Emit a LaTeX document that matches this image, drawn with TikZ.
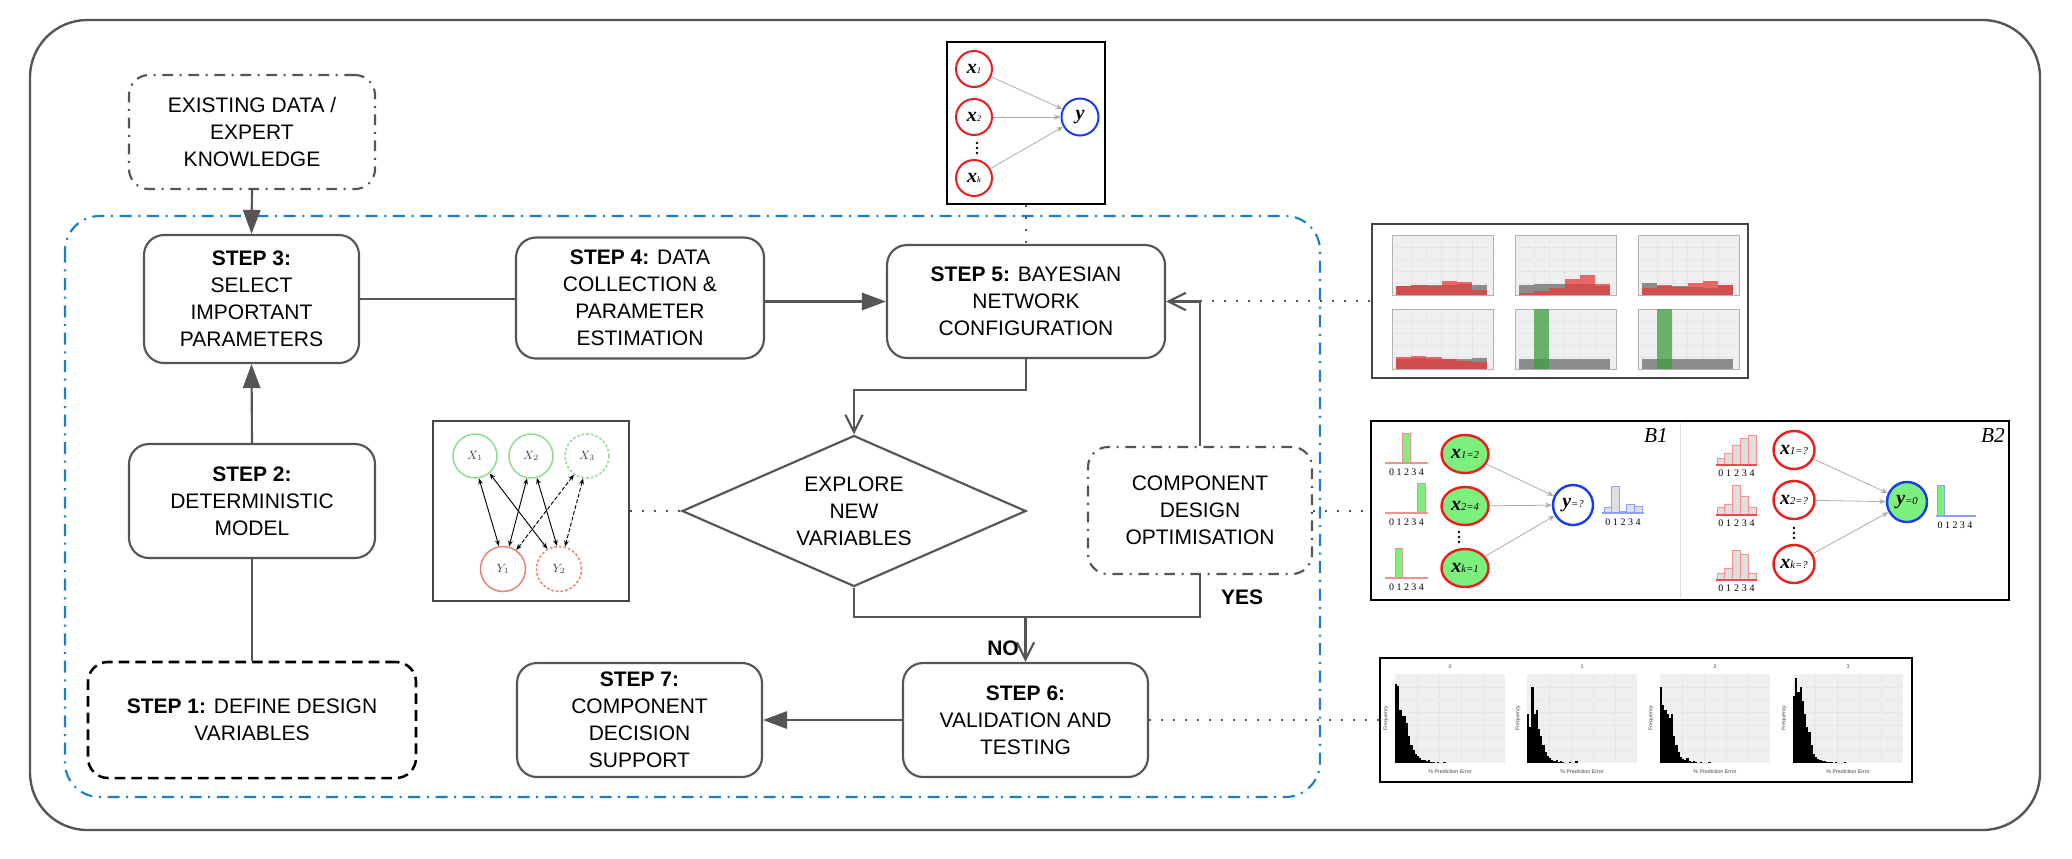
\documentclass[tikz,border=0pt]{standalone}
\usepackage{fontspec}
\setmainfont{Liberation Sans}
\newfontfamily\lserif{Liberation Serif}
\usetikzlibrary{arrows.meta,shapes.geometric,calc}
\definecolor{lg}{HTML}{555555}
\definecolor{dg}{HTML}{444444}
\definecolor{bl}{HTML}{1C7FC6}
\definecolor{bngreen}{HTML}{8EDB8E}
\definecolor{bnred}{HTML}{F07D6E}
\definecolor{nred}{HTML}{EE1C1C}
\definecolor{nblue}{HTML}{1A3CF0}
\definecolor{ngreen}{HTML}{7CF07C}
\definecolor{hgray}{HTML}{8C8C8C}
\definecolor{hred}{HTML}{E83A3A}
\definecolor{hgreen}{HTML}{3E9E3E}
\definecolor{plotbg}{HTML}{EFEFF1}
\definecolor{pinkl}{HTML}{F39090}
\definecolor{lblue}{HTML}{8FA0F5}
\newcommand\mainfs{\fontsize{15.75pt}{20.25pt}\selectfont}
\newcommand\bx[4]{{\fontsize{#3}{#3}\selectfont\lserif\bfseries\itshape #1}{\lserif\itshape\fontsize{#4}{#4}\selectfont #2}}
\newcommand\digs[1]{\makebox[#1]{0}\makebox[#1]{1}\makebox[#1]{2}\makebox[#1]{3}\makebox[#1]{4}}
\begin{document}
\begin{tikzpicture}[x=0.75pt,y=-0.75pt,
  box/.style={draw=lg, line width=1.6pt, rounded corners=15pt, align=center, inner sep=0pt, font=\mainfs},
  ddbox/.style={box, dash pattern=on 8pt off 5pt on 1.5pt off 5pt},
  flow/.style={draw=lg, line width=1.6pt},
  tri/.style={-{Triangle[length=18pt,width=13pt]}},
  barb/.style={-{Straight Barb[length=13pt,width=13pt]}},
  dotc/.style={draw=lg, line width=1.5pt, dash pattern=on 1.5pt off 7.5pt},
  lbl/.style={font=\mainfs\bfseries, inner sep=0pt},
  imgbox/.style={draw=black, line width=2.2pt, inner sep=0pt, fill=white},
  garrow/.style={draw=gray!65, line width=0.6pt, -{Stealth[length=5pt,width=4pt]}},
  bnarrow/.style={draw=black, line width=0.7pt, {Stealth[length=4.5pt,width=3.5pt]}-{Stealth[length=4.5pt,width=3.5pt]}},
  tinyt/.style={font=\fontsize{4pt}{4pt}\selectfont, inner sep=0pt, text=dg},
  digit/.style={font=\lserif\fontsize{7.5pt}{7.5pt}\selectfont, inner sep=0pt},
  gridc/.style={draw=gray!25, line width=0.3pt, dash pattern=on 1pt off 1pt},
  bnode/.style={ellipse, line width=1.8pt, minimum height=38*0.75pt, inner sep=0pt}
]
\useasboundingbox (0,0) rectangle (2072,858);
\fill[white] (0,0) rectangle (2072,858);
% outer frame
\draw[lg, line width=1.8pt, rounded corners=43pt] (30,20) rectangle (2040,830);
% blue dash-dot region
\draw[bl, line width=1.6pt, dash pattern=on 9pt off 5pt on 1.5pt off 5pt, rounded corners=26pt] (65,216) rectangle (1320,797);

% ---------- flow nodes ----------
\node[ddbox, minimum width=246*0.75pt, minimum height=114*0.75pt] (ex) at (252,132) {EXISTING DATA /\\EXPERT\\KNOWLEDGE};
\node[box, minimum width=215*0.75pt, minimum height=128*0.75pt] (s3) at (251.5,299) {\textbf{STEP 3:}\\SELECT\\IMPORTANT\\PARAMETERS};
\node[box, minimum width=248*0.75pt, minimum height=121*0.75pt] (s4) at (640,298) {\textbf{STEP 4:} DATA\\COLLECTION \&\\PARAMETER\\ESTIMATION};
\node[box, minimum width=278*0.75pt, minimum height=113*0.75pt] (s5) at (1026,301.5) {\textbf{STEP 5:} BAYESIAN\\NETWORK\\CONFIGURATION};
\node[box, minimum width=246*0.75pt, minimum height=114*0.75pt] (s2) at (252,501) {\textbf{STEP 2:}\\DETERMINISTIC\\MODEL};
\node[box, draw=black, line width=1.9pt, dash pattern=on 8pt off 4.5pt, minimum width=328*0.75pt, minimum height=116*0.75pt] (s1) at (252,720) {\textbf{STEP 1:} DEFINE DESIGN\\VARIABLES};
\node[draw=lg, line width=1.6pt, diamond, aspect=2.28, minimum width=344*0.75pt, minimum height=151*0.75pt, inner sep=0pt, align=center, font=\mainfs] (dia) at (854,511) {EXPLORE\\NEW\\VARIABLES};
\node[ddbox, minimum width=224*0.75pt, minimum height=127*0.75pt] (comp) at (1200,510.5) {COMPONENT\\DESIGN\\OPTIMISATION};
\node[box, minimum width=245*0.75pt, minimum height=114*0.75pt] (s7) at (639.5,720) {\textbf{STEP 7:}\\COMPONENT\\DECISION\\SUPPORT};
\node[box, minimum width=245*0.75pt, minimum height=114*0.75pt] (s6) at (1025.5,720) {\textbf{STEP 6:}\\VALIDATION AND\\TESTING};

% ---------- connectors ----------
\draw[flow,tri] (ex.south) -- (s3.north);
\draw[flow,tri] (s2.north) -- (s3.south);
\draw[flow] (s1.north) -- (s2.south);
\draw[flow] (s3.east) -- (s3.east -| s4.west);
\draw[flow,tri] (s4.east |- s5.west) -- (s5.west);
\draw[flow,barb] (s5.south) -- (s5.south |- 0,390) -| (dia.north);
\draw[flow] (dia.south) |- (comp.south |- 0,617) -- (comp.south);
\draw[flow,barb] (s6.north |- 0,617) -- (s6.north);
\draw[flow,barb] (comp.north) -- (comp.north |- s5.east) -- (s5.east);
\draw[flow,tri] (s6.west) -- (s7.east);
\node[lbl] (yes) at (1242,597) {YES};
\node[lbl] (no) at (1003,648) {NO};

% ---------- top BN image ----------
\node[imgbox, minimum width=158*0.75pt, minimum height=162*0.75pt] (tbn) at (1026,123) {};
\node[circle, draw=nred, line width=1.5pt, minimum size=36*0.75pt, inner sep=0pt] (t1) at (974,69) {\bx{x}{1}{15pt}{6.5pt}};
\node[circle, draw=nred, line width=1.5pt, minimum size=36*0.75pt, inner sep=0pt] (t2) at (974,117) {\bx{x}{2}{15pt}{6.5pt}};
\node[circle, draw=nred, line width=1.5pt, minimum size=36*0.75pt, inner sep=0pt] (tk) at (974,178) {\bx{x}{k}{15pt}{6.5pt}};
\node[circle, draw=nblue, line width=1.5pt, minimum size=37*0.75pt, inner sep=0pt] (ty) at (1080,117) {\bx{y}{}{15pt}{6.5pt}};
\draw[garrow] (t1) -- (ty);
\draw[garrow] (t2) -- (ty);
\draw[garrow] (tk) -- (ty);
\foreach \d in {-5,0,5} \fill (977,148+\d) circle (1pt);

% ---------- left BN image ----------
\node[draw=dg, line width=1.8pt, inner sep=0pt, minimum width=196*0.75pt, minimum height=180*0.75pt] (bnl) at (531,511) {};
\node[circle, draw=bngreen, line width=1.1pt, minimum size=44*0.75pt, inner sep=0pt, font=\fontsize{9pt}{9pt}\selectfont, text=dg] (X1) at (475,456) {$X_1$};
\node[circle, draw=bngreen, line width=1.1pt, minimum size=44*0.75pt, inner sep=0pt, font=\fontsize{9pt}{9pt}\selectfont, text=dg] (X2) at (531,456) {$X_2$};
\node[circle, draw=bngreen, line width=1.1pt, dash pattern=on 2pt off 1.5pt, minimum size=44*0.75pt, inner sep=0pt, font=\fontsize{9pt}{9pt}\selectfont, text=dg] (X3) at (587,456) {$X_3$};
\node[circle, draw=bnred, line width=1.1pt, minimum size=45*0.75pt, inner sep=0pt, font=\fontsize{9pt}{9pt}\selectfont, text=dg] (Y1) at (503,569) {$Y_1$};
\node[circle, draw=bnred, line width=1.1pt, dash pattern=on 2pt off 1.5pt, minimum size=45*0.75pt, inner sep=0pt, font=\fontsize{9pt}{9pt}\selectfont, text=dg] (Y2) at (559,569) {$Y_2$};
\draw[bnarrow] (X1.-80) -- (Y1.100);
\draw[bnarrow] (X1.-50) -- (Y2.120);
\draw[bnarrow] (X2.-100) -- (Y1.75);
\draw[bnarrow] (X2.-75) -- (Y2.95);
\draw[bnarrow, dash pattern=on 3pt off 1.5pt] (X3.-125) -- (Y1.55);
\draw[bnarrow, dash pattern=on 3pt off 1.5pt] (X3.-100) -- (Y2.75);

% ---------- histogram box (6 panels) ----------
\node[draw=dg, line width=2.2pt, inner sep=0pt, fill=white, minimum width=376*0.75pt, minimum height=154*0.75pt] (hist) at (1560,301) {};
\foreach \xl in {1392,1515,1638} {
  \foreach \yt in {235,309} {
    \fill[plotbg] (\xl,\yt) rectangle (\xl+101,\yt+60);
    \foreach \gx in {1,...,5} \draw[gridc] (\xl+4+\gx*15.2,\yt) -- (\xl+4+\gx*15.2,\yt+60);
    \foreach \gy in {1,...,4} \draw[gridc] (\xl,\yt+\gy*12) -- (\xl+101,\yt+\gy*12);
    \draw[gray!60, line width=0.3pt] (\xl,\yt) rectangle (\xl+101,\yt+60);
  }
}
\foreach \i/\gh/\rh in {0/9/9,1/10/10,2/10/9,3/10/14,4/11/13,5/10/5} {
  \fill[hgray] (1396+\i*15.2,295) rectangle ++(15.2,-\gh);
  \fill[hred, opacity=0.75] (1396+\i*15.2,295) rectangle ++(15.2,-\rh);}
\foreach \i/\gh/\rh in {0/10/2,1/11/4,2/11/7,3/11/16,4/11/20,5/9/11} {
  \fill[hgray] (1519+\i*15.2,295) rectangle ++(15.2,-\gh);
  \fill[hred, opacity=0.75] (1519+\i*15.2,295) rectangle ++(15.2,-\rh);}
\foreach \i/\gh/\rh in {0/12/7,1/9/10,2/9/8,3/8/12,4/7/14,5/10/10} {
  \fill[hgray] (1642+\i*15.2,295) rectangle ++(15.2,-\gh);
  \fill[hred, opacity=0.75] (1642+\i*15.2,295) rectangle ++(15.2,-\rh);}
\foreach \i/\gh/\rh in {0/10/12,1/11/13,2/10/12,3/10/10,4/10/8,5/11/7} {
  \fill[hgray] (1396+\i*15.2,369) rectangle ++(15.2,-\gh);
  \fill[hred, opacity=0.75] (1396+\i*15.2,369) rectangle ++(15.2,-\rh);}
\foreach \i in {0,...,5} {
  \fill[hgray] (1519+\i*15.2,369) rectangle ++(15.2,-10);
  \fill[hgray] (1642+\i*15.2,369) rectangle ++(15.2,-10);}
\fill[hgreen, opacity=0.75] (1519+15.2,369) rectangle ++(15.2,-60);
\fill[hgreen, opacity=0.75] (1642+15.2,369) rectangle ++(15.2,-60);

% ---------- B1 / B2 box ----------
\node[imgbox, minimum width=638*0.75pt, minimum height=179*0.75pt] (bbox) at (1690,510.5) {};
\draw[gray!25, line width=0.6pt] (1680,423) -- (1680,598);
\node[font=\lserif\itshape\fontsize{16pt}{16pt}\selectfont, inner sep=0pt] (b1) at (1656,435) {B1};
\node[font=\lserif\itshape\fontsize{16pt}{16pt}\selectfont, inner sep=0pt] (b2) at (1993,435) {B2};
% B1 nodes
\node[bnode, draw=nred, fill=ngreen, minimum width=47*0.75pt] (a1) at (1465,454) {\bx{x}{1=2}{15pt}{8pt}};
\node[bnode, draw=nred, fill=ngreen, minimum width=47*0.75pt] (a2) at (1465,506) {\bx{x}{2=4}{15pt}{8pt}};
\node[bnode, draw=nred, fill=ngreen, minimum width=47*0.75pt] (ak) at (1465,568) {\bx{x}{k=1}{15pt}{8pt}};
\node[bnode, draw=nblue, fill=white, minimum width=40*0.75pt, minimum height=40*0.75pt] (ay) at (1573,505) {\bx{y}{=?}{15pt}{8pt}};
\draw[garrow] (a1) -- (ay);
\draw[garrow] (a2) -- (ay);
\draw[garrow] (ak) -- (ay);
\foreach \d in {-5,0,5} \fill (1459,537+\d) circle (1pt);
% B1 histograms
\fill[ngreen, draw=pinkl, line width=0.6pt] (1388+2*7.4,463) rectangle ++(7.4,-30);
\fill[ngreen, draw=pinkl, line width=0.6pt] (1388+4*7.4,513) rectangle ++(7.4,-30);
\fill[ngreen, draw=pinkl, line width=0.6pt] (1388+1*7.4,578) rectangle ++(7.4,-30);
\draw[pinkl, line width=1pt] (1385,463) -- (1428,463);
\draw[pinkl, line width=1pt] (1385,513) -- (1428,513);
\draw[pinkl, line width=1pt] (1385,578) -- (1428,578);
\node[digit] (da1) at (1406.5,472) {\digs{5.55pt}};
\node[digit] (da2) at (1406.5,522) {\digs{5.55pt}};
\node[digit] (dak) at (1406.5,587) {\digs{5.55pt}};
\foreach \i/\h in {0/6,1/27,2/2,3/9,4/7}
  \filldraw[fill=gray!25, draw=lblue, line width=0.6pt] (1604+\i*7.6,513) rectangle ++(7.6,-\h);
\draw[lblue, line width=1pt] (1602,513) -- (1644,513);
\node[digit] (day) at (1623,522) {\digs{5.7pt}};
% B2 nodes
\node[bnode, draw=nred, fill=white, minimum width=41*0.75pt] (c1) at (1794,450) {\bx{x}{1=?}{15pt}{8pt}};
\node[bnode, draw=nred, fill=white, minimum width=41*0.75pt] (c2) at (1794,500) {\bx{x}{2=?}{15pt}{8pt}};
\node[bnode, draw=nred, fill=white, minimum width=41*0.75pt] (ck) at (1794,564) {\bx{x}{k=?}{15pt}{8pt}};
\node[bnode, draw=nblue, fill=ngreen, minimum width=40*0.75pt, minimum height=40*0.75pt] (cy) at (1907,502) {\bx{y}{=0}{15pt}{8pt}};
\draw[garrow] (c1) -- (cy);
\draw[garrow] (c2) -- (cy);
\draw[garrow] (ck) -- (cy);
\foreach \d in {-5,0,5} \fill (1794,533+\d) circle (1pt);
% B2 histograms
\foreach \i/\h in {0/7,1/12,2/20,3/27,4/30}
  \filldraw[fill=gray!25, draw=pinkl, line width=0.6pt] (1717+\i*7.8,465) rectangle ++(7.8,-\h);
\foreach \i/\h in {0/8,1/11,2/30,3/19,4/8}
  \filldraw[fill=gray!25, draw=pinkl, line width=0.6pt] (1717+\i*7.8,515) rectangle ++(7.8,-\h);
\foreach \i/\h in {0/7,1/12,2/30,3/26,4/7}
  \filldraw[fill=gray!25, draw=pinkl, line width=0.6pt] (1717+\i*7.8,580) rectangle ++(7.8,-\h);
\draw[nred!80, line width=1pt] (1716,465) -- (1757,465);
\draw[nred!80, line width=1pt] (1716,515) -- (1757,515);
\draw[nred!80, line width=1pt] (1716,580) -- (1757,580);
\node[digit] (dc1) at (1736.5,473) {\digs{5.85pt}};
\node[digit] (dc2) at (1736.5,523) {\digs{5.85pt}};
\node[digit] (dck) at (1736.5,588) {\digs{5.85pt}};
\filldraw[fill=ngreen, draw=lblue, line width=0.6pt] (1937,516) rectangle ++(7.5,-31);
\draw[lblue, line width=1pt] (1936,516) -- (1976,516);
\node[digit] (dcy) at (1955,525) {\digs{5.6pt}};

% ---------- bottom histogram box ----------
\node[imgbox, minimum width=532*0.75pt, minimum height=124*0.75pt] (bot) at (1646,720) {};
\foreach \k/\xl in {0/1395,1/1527,2/1660,3/1793} {
  \fill[plotbg] (\xl,674) rectangle (\xl+110,763);
  \foreach \gx in {1,...,4} \draw[gridc] (\xl+\gx*22,674) -- (\xl+\gx*22,763);
  \foreach \gy in {1,...,6} \draw[gridc] (\xl,674+\gy*12.7) -- (\xl+110,674+\gy*12.7);
  \node[tinyt] (bt\k) at (\xl+55,667) {\k};
  \node[tinyt] (bxl\k) at (\xl+55,772) {\% Prediction Error};
  \node[tinyt, rotate=90] (byl\k) at (\xl-9,718) {Frequency};
}
\foreach \i/\h in {0/79,1/77,2/53,3/47,4/47,5/40,6/27,7/18,8/13,9/9,10/7,11/5,12/3,13/3,14/2,15/3,16/1,17/1,18/0,19/1,20/0,21/0,22/1}
  \fill[black] (1395+\i*2.2,763) rectangle ++(2.2,-\h);
\foreach \i/\h in {0/49,1/36,2/76,3/49,4/53,5/34,6/27,7/18,8/11,9/7,10/5,11/3,12/2,13/3,14/1,15/2,16/1,17/0,18/0,19/1,20/0,21/0,22/2}
  \fill[black] (1527+\i*2.2,763) rectangle ++(2.2,-\h);
\foreach \i/\h in {0/76,1/58,2/53,3/49,4/45,5/49,6/27,7/18,8/11,9/6,10/4,11/3,12/5,13/2,14/1,15/2,16/1,17/0,18/1,19/0,20/0,21/0,22/1}
  \fill[black] (1660+\i*2.2,763) rectangle ++(2.2,-\h);
\foreach \i/\h in {0/67,1/85,2/71,3/76,4/62,5/49,6/36,7/31,8/18,9/9,10/6,11/4,12/3,13/2,14/2,15/1,16/1,17/1,18/0,19/1,20/0,21/0,22/0,23/1}
  \fill[black] (1793+\i*2.2,763) rectangle ++(2.2,-\h);

% ---------- dotted links ----------
\draw[dotc] (tbn.south) -- (s5.north);
\draw[dotc] (bnl.east) -- (dia.west);
\draw[dotc] (comp.north |- hist.west) -- (hist.west);
\draw[dotc] (comp.east) -- (bbox.west);
\draw[dotc] (s6.east) -- (bot.west);
\end{tikzpicture}
\end{document}
